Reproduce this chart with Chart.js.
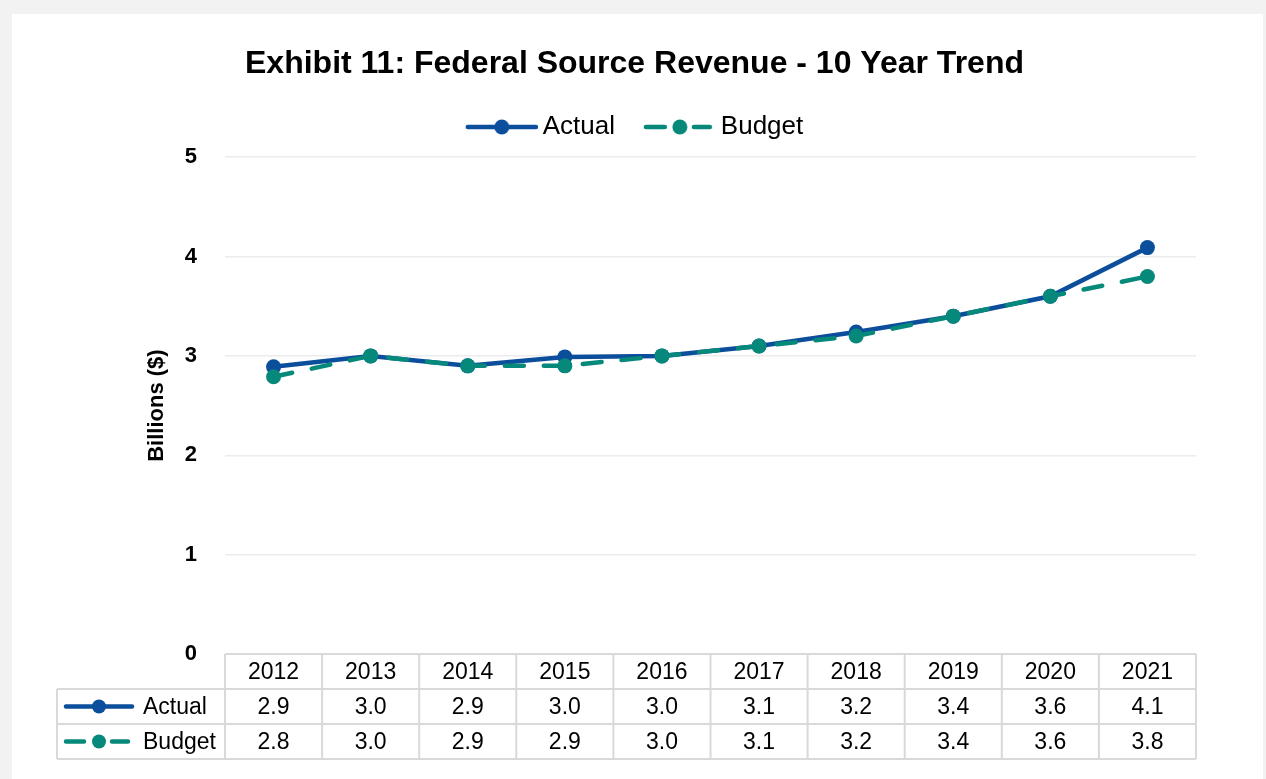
<!DOCTYPE html>
<html>
<head>
<meta charset="utf-8">
<script src="https://cdn.jsdelivr.net/npm/chart.js@4.4.1/dist/chart.umd.min.js"></script>
<style>
  html, body { margin: 0; padding: 0; background: #f2f2f2; }
  #wrap { position: relative; width: 1266px; height: 779px; }
  canvas { display: block; }
</style>
</head>
<body>
<div id="wrap"><canvas id="c" width="1266" height="779"></canvas></div>
<script>
const categories = ['2012','2013','2014','2015','2016','2017','2018','2019','2020','2021'];
const actualValues = [2.89, 3.0, 2.9, 2.99, 3.0, 3.1, 3.24, 3.4, 3.6, 4.09];
const budgetValues = [2.79, 3.0, 2.9, 2.9, 3.0, 3.1, 3.2, 3.4, 3.6, 3.8];
const actualTable = ['2.9','3.0','2.9','3.0','3.0','3.1','3.2','3.4','3.6','4.1'];
const budgetTable = ['2.8','3.0','2.9','2.9','3.0','3.1','3.2','3.4','3.6','3.8'];
const yTicks = [0, 1, 2, 3, 4, 5];
const seriesNames = ['Actual', 'Budget'];

const BLUE = '#0b4e9b';
const TEAL = '#06897a';
const FONT = "'Liberation Sans', Arial, sans-serif";

function markerCanvas(color, dashed) {
  const cv = document.createElement('canvas');
  cv.width = 80; cv.height = 18;
  const g = cv.getContext('2d');
  g.strokeStyle = color; g.fillStyle = color; g.lineWidth = 4.5; g.lineCap = 'round';
  g.beginPath();
  if (dashed) {
    g.moveTo(10, 9); g.lineTo(29, 9);
    g.moveTo(58, 9); g.lineTo(74, 9);
  } else {
    g.moveTo(10, 9); g.lineTo(78, 9);
  }
  g.stroke();
  g.beginPath(); g.arc(44, 9, 7.5, 0, Math.PI * 2); g.fill();
  return cv;
}
const markers = [markerCanvas(BLUE, false), markerCanvas(TEAL, true)];

function drawTableMarker(ctx, x0, y, color, dashed) {
  ctx.save();
  ctx.strokeStyle = color; ctx.fillStyle = color; ctx.lineWidth = 4.5; ctx.lineCap = 'round';
  ctx.beginPath();
  if (dashed) {
    ctx.moveTo(x0 + 2, y); ctx.lineTo(x0 + 20, y);
    ctx.moveTo(x0 + 48, y); ctx.lineTo(x0 + 64, y);
  } else {
    ctx.moveTo(x0 + 2, y); ctx.lineTo(x0 + 68, y);
  }
  ctx.stroke();
  ctx.beginPath(); ctx.arc(x0 + 35, y, 7, 0, Math.PI * 2); ctx.fill();
  ctx.restore();
}

const panelPlugin = {
  id: 'panel',
  beforeDraw(chart) {
    const ctx = chart.ctx;
    ctx.save();
    ctx.fillStyle = '#f2f2f2';
    ctx.fillRect(0, 0, chart.width, chart.height);
    ctx.fillStyle = '#ffffff';
    ctx.fillRect(12, 14, 1251, chart.height - 14);
    ctx.restore();
  }
};

const tablePlugin = {
  id: 'dataTable',
  afterDraw(chart) {
    const ctx = chart.ctx;
    const xs = chart.scales.x;
    const area = chart.chartArea;
    const top = area.bottom;
    const rowH = 35;
    const legLeft = 57;
    const colW = (area.right - area.left) / categories.length;
    ctx.save();
    ctx.strokeStyle = '#d9d9d9';
    ctx.lineWidth = 2;
    ctx.beginPath();
    ctx.moveTo(area.left, top); ctx.lineTo(area.right, top);
    for (let r = 1; r <= 3; r++) {
      ctx.moveTo(legLeft, top + r * rowH); ctx.lineTo(area.right, top + r * rowH);
    }
    ctx.moveTo(legLeft, top + rowH); ctx.lineTo(legLeft, top + 3 * rowH);
    for (let i = 0; i <= categories.length; i++) {
      const x = area.left + i * colW;
      ctx.moveTo(x, top); ctx.lineTo(x, top + 3 * rowH);
    }
    ctx.stroke();

    ctx.fillStyle = '#000000';
    ctx.font = "23px " + FONT;
    ctx.textAlign = 'center';
    ctx.textBaseline = 'middle';
    categories.forEach((c, i) => {
      const x = xs.getPixelForValue(i);
      ctx.fillText(c, x, top + rowH / 2 + 1);
      ctx.fillText(actualTable[i], x, top + rowH * 1.5 + 1);
      ctx.fillText(budgetTable[i], x, top + rowH * 2.5 + 1);
    });
    ctx.textAlign = 'left';
    ctx.fillText(seriesNames[0], 143, top + rowH * 1.5 + 1);
    ctx.fillText(seriesNames[1], 143, top + rowH * 2.5 + 1);
    drawTableMarker(ctx, 64, top + rowH * 1.5, BLUE, false);
    drawTableMarker(ctx, 64, top + rowH * 2.5, TEAL, true);
    ctx.restore();
  }
};

new Chart(document.getElementById('c'), {
  type: 'line',
  data: {
    labels: categories,
    datasets: [
      {
        label: seriesNames[0],
        data: actualValues,
        borderColor: BLUE,
        backgroundColor: BLUE,
        borderWidth: 4.5,
        pointRadius: 7.5,
        pointBorderWidth: 0,
        pointBackgroundColor: BLUE,
        pointStyle: 'circle',
        tension: 0,
        order: 1
      },
      {
        label: seriesNames[1],
        data: budgetValues,
        borderColor: TEAL,
        backgroundColor: TEAL,
        borderWidth: 4.5,
        borderDash: [19, 20],
        borderCapStyle: 'round',
        pointRadius: 7.5,
        pointBorderWidth: 0,
        pointBackgroundColor: TEAL,
        pointStyle: 'circle',
        tension: 0,
        order: 0
      }
    ]
  },
  options: {
    responsive: false,
    animation: false,
    devicePixelRatio: 1,
    layout: { padding: { left: 6, right: 3, top: 14, bottom: 125 } },
    plugins: {
      title: {
        display: true,
        text: 'Exhibit 11: Federal Source Revenue - 10 Year Trend',
        color: '#000000',
        font: { family: FONT, size: 32, weight: 'bold' },
        padding: { top: 30.8, bottom: 2 }
      },
      legend: {
        display: true,
        position: 'top',
        labels: {
          color: '#000000',
          font: { family: FONT, size: 26 },
          padding: 28.8,
          usePointStyle: true,
          pointStyleWidth: 64,
          generateLabels(chart) {
            return chart.data.datasets.map((ds, i) => ({
              text: ds.label,
              pointStyle: markers[i],
              fillStyle: ds.borderColor,
              strokeStyle: ds.borderColor,
              lineWidth: 0,
              hidden: false,
              datasetIndex: i,
              fontColor: '#000000'
            }));
          }
        }
      },
      subtitle: {
        display: true,
        text: ' ',
        weight: 500,
        font: { size: 1, lineHeight: 1 },
        padding: { top: 0, bottom: 6.2 }
      },
      tooltip: { enabled: false }
    },
    scales: {
      x: {
        type: 'category',
        offset: true,
        display: true,
        grid: { display: false, drawTicks: false },
        border: { display: false },
        ticks: { display: false },
        afterFit(s) { s.height = 0; }
      },
      y: {
        min: 0,
        max: 5,
        position: 'left',
        afterBuildTicks(s) { s.ticks = yTicks.map(v => ({ value: v })); },
        grid: { color: '#ececec', lineWidth: 1.5, drawTicks: false },
        border: { display: false },
        ticks: {
          color: '#000000',
          font: { family: FONT, size: 22, weight: 'bold' },
          padding: 28
        },
        title: {
          display: true,
          text: 'Billions ($)',
          color: '#000000',
          font: { family: FONT, size: 22, weight: 'bold' },
          padding: { top: 138, bottom: 0 }
        },
        afterFit(s) { s.width = 219; }
      },
      y2: {
        position: 'right',
        display: true,
        grid: { display: false, drawTicks: false },
        border: { display: false },
        ticks: { display: false },
        afterFit(s) { s.width = 67; }
      }
    }
  },
  plugins: [panelPlugin, tablePlugin]
});
</script>
</body>
</html>
